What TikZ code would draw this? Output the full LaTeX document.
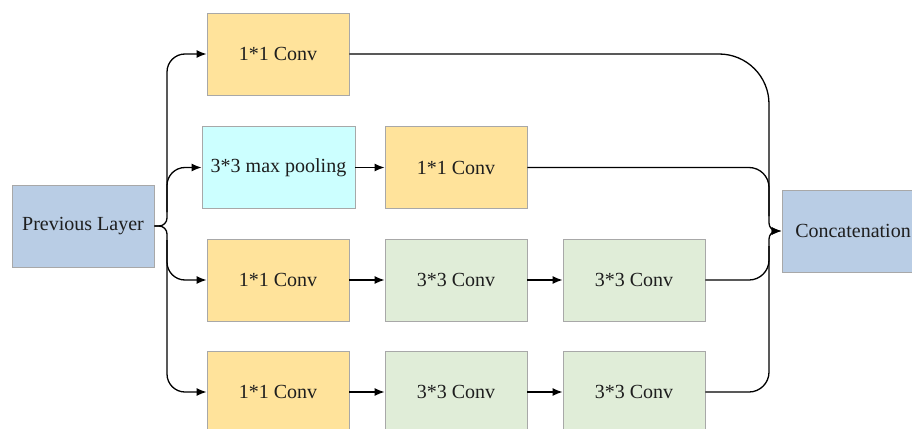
\documentclass[tikz,border=0pt]{standalone}
\usepackage{fontspec}
\setmainfont{Liberation Serif}
\usetikzlibrary{arrows.meta,calc}

\definecolor{layerblue}{HTML}{B9CDE5}
\definecolor{convorange}{HTML}{FFE39B}
\definecolor{poolcyan}{HTML}{CCFFFF}
\definecolor{convgreen}{HTML}{E0EDD8}
\definecolor{edgegray}{HTML}{A8A8A8}
\definecolor{inkgray}{HTML}{1E1E1E}

\tikzset{
  block/.style={draw=edgegray, line width=0.9pt, minimum width=142pt, minimum height=82pt,
    inner sep=0pt, text=inkgray, font=\fontsize{20}{24}\selectfont},
  layerbox/.style={block, fill=layerblue},
  onebox/.style={block, fill=convorange},
  poolbox/.style={block, fill=poolcyan, minimum width=153pt},
  threebox/.style={block, fill=convgreen},
  conn/.style={draw=black, line width=1.3pt},
  arr/.style={conn, -{Latex[length=10pt,width=8pt]}}
}

\begin{document}
\begin{tikzpicture}[x=1pt, y=-1pt]
  \useasboundingbox (0,0) rectangle (912,428);

  % input and output layers
  \node[layerbox] (prev) at (83,226) {Previous Layer};
  \node[layerbox] (concat) at (853,231) {Concatenation};

  % branch 1
  \node[onebox] (b1a) at (278,54) {1*1 Conv};
  % branch 2
  \node[poolbox] (b2a) at (278.5,167.5) {3*3 max pooling};
  \node[onebox] (b2b) at (456,167.5) {1*1 Conv};
  % branch 3
  \node[onebox] (b3a) at (278,280) {1*1 Conv};
  \node[threebox] (b3b) at (456,280) {3*3 Conv};
  \node[threebox] (b3c) at (634,280) {3*3 Conv};
  % branch 4
  \node[onebox] (b4a) at (278,392) {1*1 Conv};
  \node[threebox] (b4b) at (456,392) {3*3 Conv};
  \node[threebox] (b4c) at (634,392) {3*3 Conv};

  % split point on the left, merge point on the right
  \coordinate (split) at (167,226);
  \coordinate (splitup) at (167,212);
  \coordinate (splitdn) at (167,240);
  \coordinate (merge) at (769,231);
  \coordinate (mergeup) at (769,216);
  \coordinate (mergedn) at (769,246);

  % fan-out from the previous layer
  \draw[conn, rounded corners=8pt] (prev.east) -- (split) -- (splitup);
  \draw[conn, rounded corners=8pt] (prev.east) -- (split) -- (splitdn);
  \draw[arr, rounded corners=18pt] (splitup) |- (b1a.west);
  \draw[arr, rounded corners=18pt] (splitup) |- (b2a.west);
  \draw[arr, rounded corners=18pt] (splitdn) |- (b3a.west);
  \draw[arr, rounded corners=18pt] (splitdn) |- (b4a.west);

  % arrows inside the branches
  \draw[arr] (b2a.east) -- (b2b.west);
  \draw[arr] (b3a.east) -- (b3b.west);
  \draw[arr] (b3b.east) -- (b3c.west);
  \draw[arr] (b4a.east) -- (b4b.west);
  \draw[arr] (b4b.east) -- (b4c.west);

  % fan-in to the concatenation
  \draw[conn, rounded corners=50pt] (b1a.east) -| (mergeup);
  \draw[conn, rounded corners=20pt] (b2b.east) -| (mergeup);
  \draw[conn, rounded corners=20pt] (b3c.east) -| (mergedn);
  \draw[conn, rounded corners=20pt] (b4c.east) -| (mergedn);
  \draw[arr, rounded corners=8pt] (mergeup) |- (concat.west);
  \draw[arr, rounded corners=8pt] (mergedn) |- (concat.west);
\end{tikzpicture}
\end{document}
